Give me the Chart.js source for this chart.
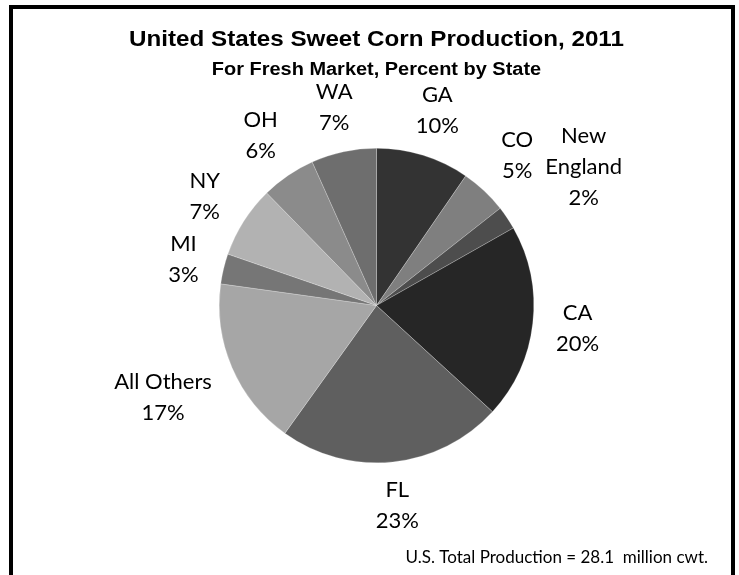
<!DOCTYPE html>
<html><head><meta charset="utf-8">
<script src="https://cdn.jsdelivr.net/npm/chart.js@4"></script>
<style>html,body{margin:0;padding:0;background:#fff}#wrap{width:739px;height:575px;position:relative}</style>
</head><body><div id="wrap"><canvas id="c" width="739" height="575"></canvas></div>
<script>
const categories = ['GA', 'CO', ['New', 'England'], 'CA', 'FL', 'All Others', 'MI', 'NY', 'OH', 'WA'];
const shares = [9.6, 4.8, 2.4, 20.0, 23.1, 17.3, 3.1, 7.4, 5.6, 6.7];
const sliceColors = ['#333333', '#7f7f7f', '#4d4d4d', '#262626', '#5f5f5f', '#a6a6a6', '#767676', '#b2b2b2', '#8b8b8b', '#6e6e6e'];
const titleText = 'United States Sweet Corn Production, 2011';
const subtitleText = 'For Fresh Market, Percent by State';
const footnoteText = 'U.S. Total Production = 28.1  million cwt.';

const decor = {
  id: 'decor',
  afterDraw(chart) {
    const ctx = chart.ctx;
    ctx.save();
    // frame
    ctx.fillStyle = '#000';
    ctx.fillRect(9, 5, 4, 570);
    ctx.fillRect(9, 5, 726, 4);
    ctx.fillRect(731, 5, 4, 570);
    // titles
    ctx.textAlign = 'center';
    ctx.textBaseline = 'alphabetic';
    ctx.save();
    ctx.translate(376.5, 45.7);
    ctx.scale(1.1, 1);
    ctx.font = 'bold 22px "Liberation Sans", Arial, sans-serif';
    ctx.fillText(titleText, 0, 0);
    ctx.restore();
    ctx.save();
    ctx.translate(376.5, 75);
    ctx.scale(1.14, 1);
    ctx.font = 'bold 17.5px "Liberation Sans", Arial, sans-serif';
    ctx.fillText(subtitleText, 0, 0);
    ctx.restore();
    // data labels (outside end, pushed outward when they collide)
    const meta = chart.getDatasetMeta(0);
    ctx.font = '22px Lato, sans-serif';
    ctx.fillStyle = '#000';
    ctx.textBaseline = 'middle';
    const lineH = 31, gap = 17, padX = 4, padY = -7, margin = 12;
    const placed = [];
    meta.data.forEach((arc, i) => {
      const p = arc.getProps(['x', 'y', 'startAngle', 'endAngle', 'outerRadius'], true);
      const mid = (p.startAngle + p.endAngle) / 2;
      const c = Math.cos(mid), s = Math.sin(mid);
      const name = categories[i];
      const lines = (Array.isArray(name) ? name.slice() : [name]);
      lines.push(Math.round(shares[i]) + '%');
      const w = Math.max(...lines.map(t => ctx.measureText(t).width));
      const h = lines.length * lineH;
      let d = p.outerRadius + gap + (w / 2 + padX) * Math.abs(c) + (h / 2 + padY) * Math.abs(s);
      let cx, cy;
      const hits = () => placed.some(b =>
        Math.abs(b.x - cx) < (b.w + w) / 2 + margin && Math.abs(b.y - cy) < (b.h + h) / 2 - 4);
      for (let k = 0; k < 200; k++) {
        cx = p.x + d * c; cy = p.y + d * s;
        if (!hits()) break;
        d += 1;
      }
      placed.push({ x: cx, y: cy, w, h });
      lines.forEach((t, k) => {
        ctx.fillText(t, cx, cy - h / 2 + lineH * (k + 0.5));
      });
    });
    // footnote
    ctx.textAlign = 'right';
    ctx.textBaseline = 'alphabetic';
    ctx.font = '17px Lato, sans-serif';
    ctx.fillText(footnoteText, 708, 563);
    ctx.restore();
  }
};

new Chart(document.getElementById('c'), {
  type: 'pie',
  data: {
    labels: categories,
    datasets: [{
      data: shares,
      backgroundColor: sliceColors,
      borderWidth: 0.5,
      borderColor: 'rgba(255,255,255,0.45)'
    }]
  },
  options: {
    responsive: false,
    animation: false,
    devicePixelRatio: 1,
    layout: { padding: { left: 219, right: 205, top: 148, bottom: 112 } },
    plugins: { legend: { display: false }, tooltip: { enabled: false }, title: { display: false } }
  },
  plugins: [decor]
});
</script>
</body></html>
